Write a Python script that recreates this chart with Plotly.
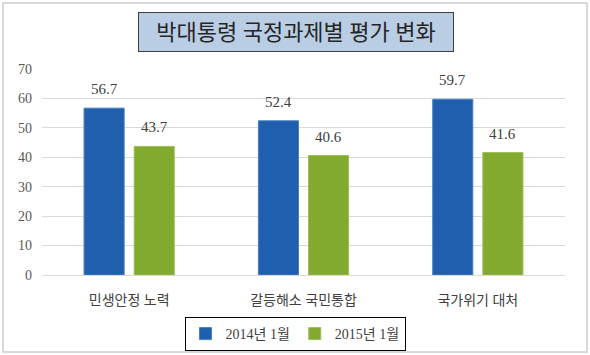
import plotly.graph_objects as go

categories = ["민생안정 노력", "갈등해소 국민통합", "국가위기 대처"]
series_names = ["2014년 1월", "2015년 1월"]
values_2014 = [56.7, 52.4, 59.7]
values_2015 = [43.7, 40.6, 41.6]
colors = ["#1f5fad", "#82aa2f"]
edge_colors = ["#4a7fc0", "#9cbd56"]
title_text = "박대통령 국정과제별 평가 변화"

FONT = "Liberation Serif, Noto Sans CJK KR, serif"

L, R, T, B = 42, 25, 69, 80
W, H = 590, 355
pw, ph = W - L - R, H - T - B

def px(x):
    return (x - L) / pw

def py(y):
    return (H - B - y) / ph

fig = go.Figure()
annotations = []
offsets = [-25, 25]
for name, vals, col, ecol, off in zip(series_names, [values_2014, values_2015],
                                       colors, edge_colors, offsets):
    fig.add_trace(go.Bar(
        x=categories, y=vals, name=name, marker_color=col,
        marker_line=dict(color=ecol, width=1),
        hoverinfo="x+y+name",
    ))
    for c, v in zip(categories, vals):
        annotations.append(dict(
            x=c, y=v, xref="x", yref="y", text=f"{v:.1f}", showarrow=False,
            xanchor="center", yanchor="bottom", xshift=off, yshift=9,
            font=dict(size=15, color="#404040", family=FONT),
        ))

annotations.append(dict(
    text=title_text, xref="paper", yref="paper",
    x=px(296), y=py(32), xanchor="center", yanchor="middle",
    showarrow=False, font=dict(size=22, color="#262626", family=FONT),
    bgcolor="#b9cde5", bordercolor="#404040", borderwidth=1,
    width=312, height=36, borderpad=1,
))

fig.update_layout(
    width=W, height=H,
    margin=dict(l=L, r=R, t=T, b=B, pad=0, autoexpand=False),
    paper_bgcolor="white", plot_bgcolor="white",
    barmode="group", bargap=0.425, bargroupgap=0.2,
    font=dict(family=FONT, size=14, color="#404040"),
    showlegend=True,
    legend=dict(
        orientation="h", x=px(295), xanchor="center", y=py(317), yanchor="top",
        bordercolor="#000000", borderwidth=1,
        font=dict(size=14, color="#404040", family=FONT),
        itemwidth=30, traceorder="normal",
        tracegroupgap=0,
    ),
    xaxis=dict(
        showgrid=False, showline=True, linecolor="#d9d9d9", linewidth=1,
        ticks="", tickfont=dict(size=14, color="#404040", family=FONT),
        ticklabelstandoff=12,
    ),
    yaxis=dict(
        range=[0, 70], dtick=10, showgrid=True, gridcolor="#d9d9d9",
        gridwidth=1, zeroline=False, showline=False, ticks="",
        tickfont=dict(size=14, color="#595959", family=FONT),
        ticklabelstandoff=9,
    ),
    shapes=[dict(
        type="rect", xref="paper", yref="paper",
        x0=px(3), x1=px(587), y0=py(352), y1=py(3),
        line=dict(color="#d9d9d9", width=2), fillcolor="rgba(0,0,0,0)",
        layer="below",
    )],
    annotations=annotations,
)

fig.write_html("out.html", post_script="document.body.style.margin='0px';",
               config={"displayModeBar": False})
